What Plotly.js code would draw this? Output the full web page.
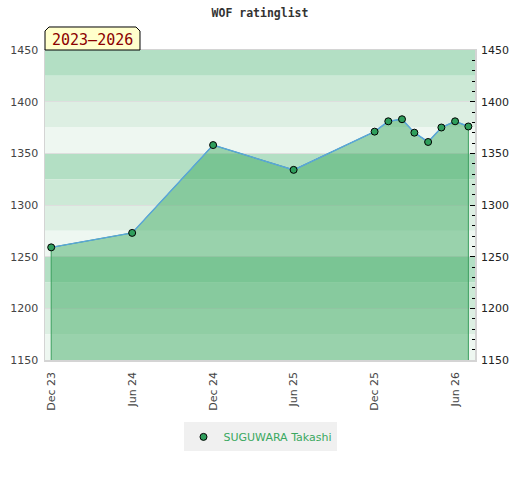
<!DOCTYPE html>
<html>
<head>
<meta charset="utf-8">
<script src="https://cdn.plot.ly/plotly-3.0.1.min.js"></script>
<style>
  html, body { margin: 0; padding: 0; background: #ffffff; }
  #chart { width: 520px; height: 480px; }
</style>
</head>
<body>
<div id="chart"></div>
<script>
// ---- data ----
const dates = ['2023-12-01', '2024-06-01', '2024-12-01', '2025-06-01', '2025-12-01',
               '2026-01-01', '2026-02-01', '2026-03-01', '2026-04-01', '2026-05-01',
               '2026-06-01', '2026-07-01'];
const ratings = [1259, 1273, 1358, 1334, 1371, 1381, 1383, 1370, 1361, 1375, 1381, 1376];
const playerName = 'SUGUWARA Takashi';
const chartTitle = 'WOF ratinglist';
const periodLabel = '2023\u20132026';
const yMin = 1150, yMax = 1450;
const xRange = ['2023-11-17', '2026-07-16'];

// ---- styling ----
const bandColors = ['#b3dfc4', '#cce9d6', '#ddefe3', '#eef7f1'];
const shapes = [];
for (let top = yMax, i = 0; top > yMin; top -= 25, i++) {
  shapes.push({
    type: 'rect', xref: 'paper', yref: 'y', x0: 0, x1: 1, y0: top - 25, y1: top,
    fillcolor: bandColors[i % 4], line: { width: 0 }, layer: 'below'
  });
}
// label box with bevelled top corners (paper coords)
shapes.push({
  type: 'path', xref: 'paper', yref: 'paper',
  path: 'M 0 1 L 0 1.0613 L 0.0093 1.0742 L 0.2116 1.0742 L 0.2209 1.0613 L 0.2209 1 Z',
  fillcolor: '#ffffcc', line: { color: '#000000', width: 1 }, layer: 'above'
});

// area polygon built from the data (closed down to the axis minimum)
const areaX = [dates[0]].concat(dates, [dates[dates.length - 1]]);
const areaY = [yMin].concat(ratings, [yMin]);

const traces = [
  {
    x: areaX, y: areaY, type: 'scatter', mode: 'lines', fill: 'toself',
    fillcolor: 'rgba(61,170,97,0.48)', line: { color: '#3a9e5e', width: 1 },
    hoverinfo: 'skip', showlegend: false
  },
  {
    x: dates, y: ratings, type: 'scatter', mode: 'lines',
    line: { color: '#5aa5dc', width: 1.5 }, showlegend: false
  },
  {
    x: dates, y: ratings, type: 'scatter', mode: 'markers', name: playerName,
    yaxis: 'y2',
    marker: { color: '#2f9e5c', size: 7, line: { color: '#000000', width: 1 } }
  }
];

const layout = {
  width: 520, height: 480,
  margin: { l: 45, r: 45, t: 50, b: 120 },
  paper_bgcolor: '#ffffff', plot_bgcolor: '#ffffff',
  font: { family: 'DejaVu Sans', size: 11, color: '#444444' },
  title: {
    text: chartTitle, x: 0.5, xanchor: 'center', y: 1 - 13 / 480, yanchor: 'middle',
    font: { family: 'DejaVu Sans Mono', size: 11.5, color: '#333333', weight: 'bold' }
  },
  xaxis: {
    type: 'date', range: xRange, tick0: '2023-12-01', dtick: 'M6',
    tickformat: '%b %y', tickangle: -90, ticks: '', showgrid: false,
    showline: true, linecolor: '#d4d4d4', linewidth: 1.5, mirror: true,
    zeroline: false, tickfont: { size: 11, color: '#444444' }, ticklabelstandoff: 6
  },
  yaxis: {
    range: [yMin, yMax], dtick: 50, tick0: 1150, ticks: '', showgrid: true,
    gridcolor: '#dedede', gridwidth: 1, zeroline: false,
    showline: true, linecolor: '#d4d4d4', linewidth: 1.5, mirror: true,
    tickfont: { size: 11, color: '#444444' }, ticklabelstandoff: 3
  },
  yaxis2: {
    overlaying: 'y', side: 'right', range: [yMin, yMax], dtick: 50, tick0: 1150,
    showgrid: false, zeroline: false, ticks: 'inside', ticklen: 5, tickcolor: '#000000',
    minor: { dtick: 10, ticks: 'inside', ticklen: 3, tickcolor: '#000000', showgrid: false },
    tickfont: { size: 11, color: '#222222' }, ticklabelstandoff: 5
  },
  shapes: shapes,
  annotations: [{
    xref: 'paper', yref: 'paper', x: 0.1105, y: 1.032, xanchor: 'center', yanchor: 'middle',
    text: periodLabel, showarrow: false,
    font: { family: 'DejaVu Sans Mono', size: 15, color: '#8b0000' }
  }],
  showlegend: true,
  legend: {
    orientation: 'h', x: 0.5, xanchor: 'center', y: -0.248, yanchor: 'middle',
    bgcolor: '#f0f0f0', font: { size: 11, color: '#3aa860' }, itemwidth: 30
  }
};

Plotly.newPlot('chart', traces, layout, { displayModeBar: false, staticPlot: true });
</script>
</body>
</html>
